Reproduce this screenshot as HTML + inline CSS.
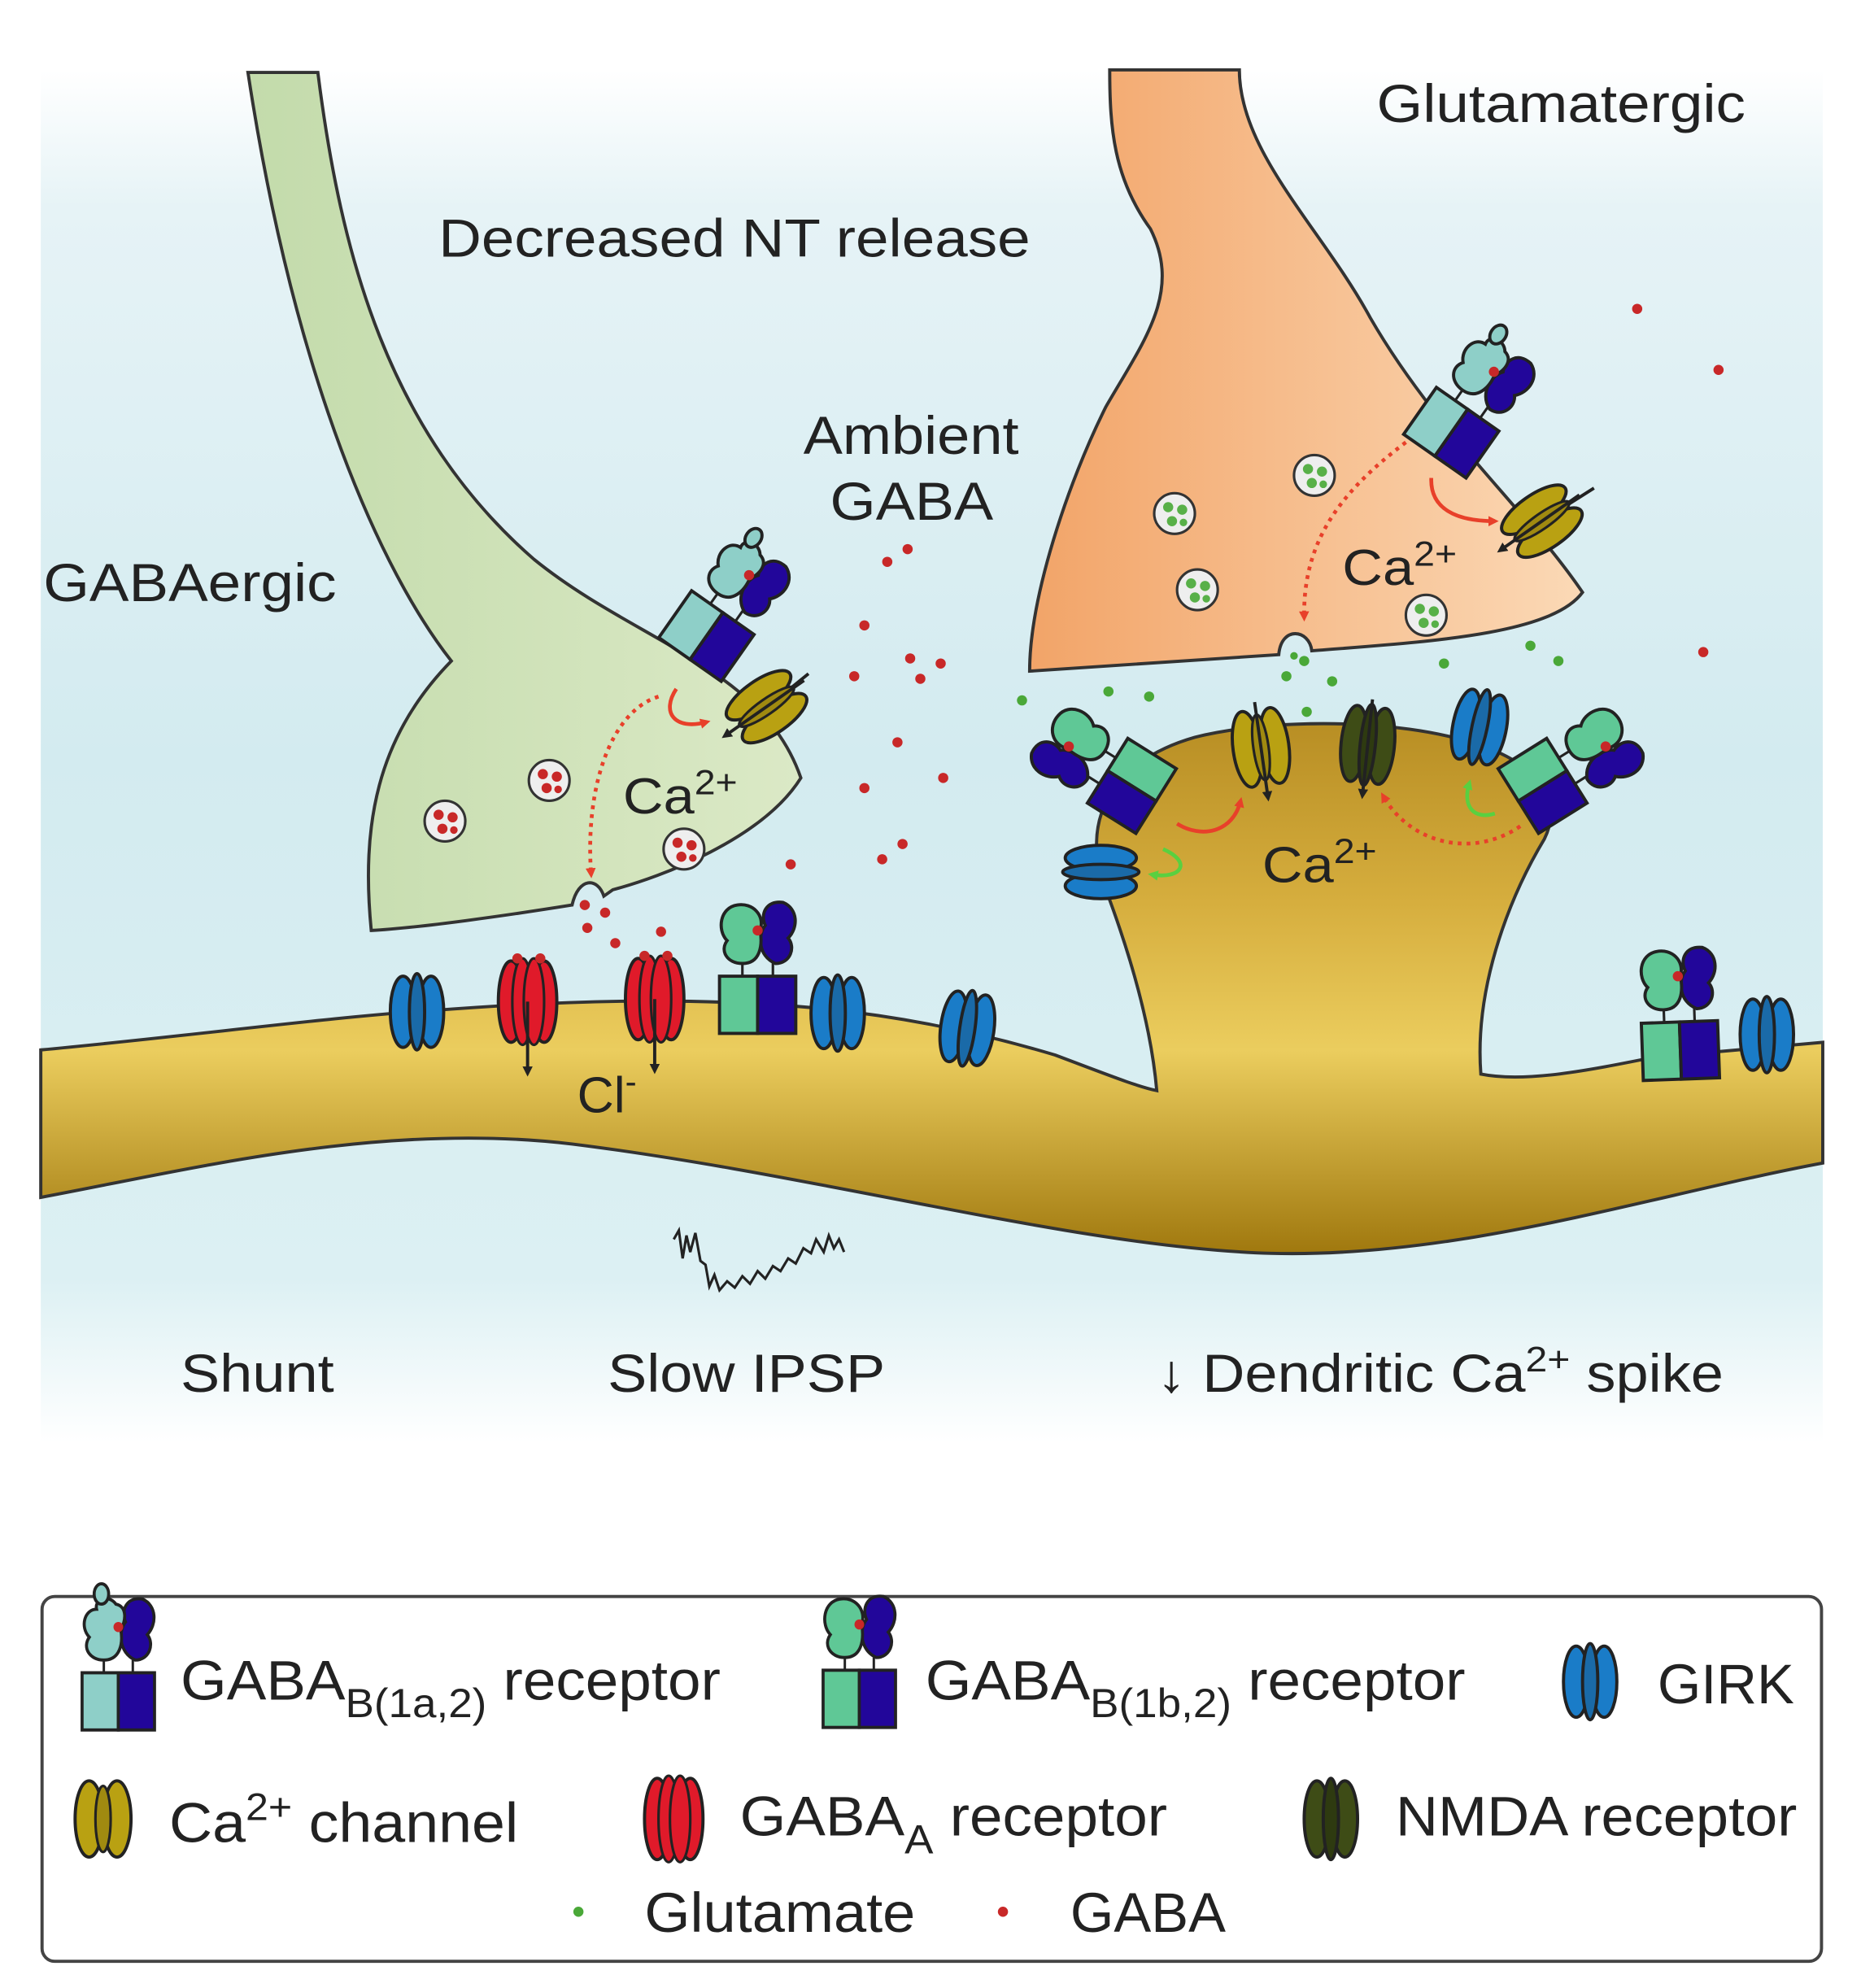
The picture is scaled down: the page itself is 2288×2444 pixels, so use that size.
<!DOCTYPE html>
<html><head><meta charset="utf-8"><style>
html,body{margin:0;padding:0;background:#fff}
svg{display:block}
text{font-family:"Liberation Sans",Arial,sans-serif;fill:#222}
</style></head><body>
<svg width="2288" height="2444" viewBox="0 0 1464 1564" xmlns="http://www.w3.org/2000/svg">
<defs>
<linearGradient id="bg" x1="0" y1="0" x2="0" y2="1" gradientUnits="objectBoundingBox">
<stop offset="0" stop-color="#ffffff"/><stop offset="0.1" stop-color="#e6f3f6"/><stop offset="0.5" stop-color="#d3ebf0"/><stop offset="0.88" stop-color="#dcf0f3"/><stop offset="1" stop-color="#ffffff"/></linearGradient>
<linearGradient id="gr" x1="0" y1="0" x2="1" y2="0"><stop offset="0" stop-color="#c3dbab"/><stop offset="1" stop-color="#dbe9c6"/></linearGradient>
<linearGradient id="or" x1="0" y1="0" x2="1" y2="0"><stop offset="0" stop-color="#f2a468"/><stop offset="1" stop-color="#fbd9b6"/></linearGradient>
<linearGradient id="dd" x1="0" y1="560" x2="0" y2="990" gradientUnits="userSpaceOnUse"><stop offset="0" stop-color="#b68c22"/><stop offset="0.35" stop-color="#d6ae3e"/><stop offset="0.62" stop-color="#ebcd5e"/><stop offset="1" stop-color="#9e760c"/></linearGradient>
<marker id="ar" markerWidth="8" markerHeight="8" refX="5" refY="4" orient="auto" markerUnits="userSpaceOnUse"><path d="M0,0 L8,4 L0,8Z" fill="#e8402a"/></marker>
<marker id="ag" markerWidth="8" markerHeight="8" refX="5" refY="4" orient="auto" markerUnits="userSpaceOnUse"><path d="M0,0 L8,4 L0,8Z" fill="#5ad040"/></marker>
<marker id="ab" markerWidth="8" markerHeight="8" refX="5" refY="4" orient="auto" markerUnits="userSpaceOnUse"><path d="M0,0 L8,4 L0,8Z" fill="#222"/></marker>
<g id="lumps">
<line x1="-12" y1="-22" x2="-12" y2="-32" stroke="#222" stroke-width="2"/><line x1="12" y1="-22" x2="12" y2="-32" stroke="#222" stroke-width="2"/>
<path d="M14,-32 C26,-32 30,-45 24,-52 C32,-60 32,-75 20,-80 C6,-82 2,-70 6,-62 C0,-55 0,-38 14,-32Z" fill="#22069a" stroke="#222" stroke-width="2.5"/>
</g>
<g id="ga">
<use href="#lumps"/>
<path d="M-12,-32 C-24,-32 -30,-42 -24,-50 C-32,-58 -28,-72 -18,-72 C-20,-80 -8,-84 -2,-76 C8,-74 6,-62 2,-56 C4,-46 2,-32 -12,-32Z" fill="#8ecfc8" stroke="#222" stroke-width="2.5"/>
<ellipse cx="-14" cy="-84" rx="6" ry="8" fill="#8ecfc8" stroke="#222" stroke-width="2.5"/>
<circle cx="0" cy="-58" r="4" fill="#c82828"/>
<rect x="-30" y="-22" width="30" height="45" fill="#8ecfc8" stroke="#222" stroke-width="2.5"/>
<rect x="0" y="-22" width="30" height="45" fill="#22069a" stroke="#222" stroke-width="2.5"/>
</g>
<g id="gb">
<use href="#lumps"/>
<path d="M-12,-32 C-24,-32 -30,-42 -24,-50 C-32,-58 -30,-76 -16,-78 C-4,-80 6,-70 2,-58 C4,-46 2,-32 -12,-32Z" fill="#5fc896" stroke="#222" stroke-width="2.5"/>
<circle cx="0" cy="-58" r="4" fill="#c82828"/>
<rect x="-30" y="-22" width="30" height="45" fill="#5fc896" stroke="#222" stroke-width="2.5"/>
<rect x="0" y="-22" width="30" height="45" fill="#22069a" stroke="#222" stroke-width="2.5"/>
</g>
<g id="girk">
<ellipse cx="-11" cy="0" rx="10" ry="28" fill="#1a7cc8" stroke="#222" stroke-width="2.5"/>
<ellipse cx="11" cy="0" rx="10" ry="28" fill="#1a7cc8" stroke="#222" stroke-width="2.5"/>
<ellipse cx="0" cy="0" rx="6" ry="30" fill="#1a6aa8" stroke="#222" stroke-width="2.5"/>
</g>
<g id="nmda">
<ellipse cx="-11" cy="0" rx="10" ry="30" fill="#3e4c16" stroke="#222" stroke-width="2.5"/>
<ellipse cx="11" cy="0" rx="10" ry="30" fill="#3e4c16" stroke="#222" stroke-width="2.5"/>
<ellipse cx="0" cy="0" rx="6" ry="32" fill="#2e3a10" stroke="#222" stroke-width="2.5"/>
</g>
<g id="ca">
<ellipse cx="-11" cy="0" rx="11" ry="30" fill="#b9a112" stroke="#222" stroke-width="2.5"/>
<ellipse cx="11" cy="0" rx="11" ry="30" fill="#b9a112" stroke="#222" stroke-width="2.5"/>
<ellipse cx="0" cy="0" rx="6" ry="26" fill="#a08a10" stroke="#222" stroke-width="2"/>
</g>
<g id="caA"><use href="#ca"/><line x1="0" y1="-36" x2="0" y2="40" stroke="#222" stroke-width="2.5" marker-end="url(#ab)"/></g>
<g id="gaba">
<ellipse cx="-13" cy="0" rx="10" ry="32" fill="#e01a2a" stroke="#222" stroke-width="2.5"/>
<ellipse cx="13" cy="0" rx="10" ry="32" fill="#e01a2a" stroke="#222" stroke-width="2.5"/>
<ellipse cx="-4" cy="0" rx="8" ry="34" fill="#e01a2a" stroke="#222" stroke-width="2"/>
<ellipse cx="5" cy="0" rx="8" ry="34" fill="#e01a2a" stroke="#222" stroke-width="2"/>
</g>
<g id="gabaA"><use href="#gaba"/><line x1="0" y1="0" x2="0" y2="56" stroke="#222" stroke-width="2.5" marker-end="url(#ab)"/><circle cx="-8" cy="-34" r="4" fill="#c82828"/><circle cx="10" cy="-34" r="4" fill="#c82828"/></g>
<g id="vr"><circle r="16" fill="#eee" stroke="#333" stroke-width="2"/><circle cx="-5" cy="-5" r="4" fill="#c82828"/><circle cx="6" cy="-3" r="4" fill="#c82828"/><circle cx="-2" cy="6" r="4" fill="#c82828"/><circle cx="7" cy="7" r="3" fill="#c82828"/></g>
<g id="vg"><circle r="16" fill="#eee" stroke="#333" stroke-width="2"/><circle cx="-5" cy="-5" r="4" fill="#58b048"/><circle cx="6" cy="-3" r="4" fill="#58b048"/><circle cx="-2" cy="6" r="4" fill="#58b048"/><circle cx="7" cy="7" r="3" fill="#58b048"/></g>
</defs>

<rect x="32" y="55" width="1402" height="1080" fill="url(#bg)"/>

<path d="M195,57 L250,57 C268,200 305,340 420,440 C500,505 600,525 630,612 C600,660 520,690 482,700 L475,705 C470,690 455,690 450,712 C400,720 330,730 292,732 C284,650 296,580 355,520 C300,450 232,300 195,57 Z" fill="url(#gr)" stroke="#333" stroke-width="2.5"/>
<path d="M873,55 L975,55 C975,120 1040,180 1078,250 C1130,340 1200,400 1245,466 C1220,500 1120,505 1032,512 C1030,495 1008,492 1006,515 L810,528 C810,470 840,380 870,320 C900,268 930,230 905,180 C876,140 873,100 873,55 Z" fill="url(#or)" stroke="#333" stroke-width="2.5"/>
<path d="M32,826 C150,815 260,800 340,795 C430,788 520,785 600,790 C700,795 780,815 830,830 C870,845 895,855 910,858 C905,800 885,740 870,700 C850,650 870,600 940,580 C1000,565 1100,565 1160,585 C1210,600 1230,630 1215,660 C1185,710 1160,780 1165,845 C1200,852 1250,842 1300,832 L1434,820 L1434,915 C1300,940 1150,990 1000,986 C850,982 650,925 450,900 C300,882 150,920 32,942 Z" fill="url(#dd)" stroke="#333" stroke-width="2.5"/>

<use href="#vr" x="350" y="646"/><use href="#vr" x="432" y="614"/><use href="#vr" x="538" y="668"/>
<use href="#vg" x="924" y="404"/><use href="#vg" x="1034" y="374"/><use href="#vg" x="942" y="464"/><use href="#vg" x="1122" y="484"/>

<g fill="#c82828"><circle cx="460" cy="712" r="4"/><circle cx="476" cy="718" r="4"/><circle cx="462" cy="730" r="4"/><circle cx="484" cy="742" r="4"/><circle cx="520" cy="733" r="4"/>
<circle cx="698" cy="442" r="4"/><circle cx="714" cy="432" r="4"/><circle cx="680" cy="492" r="4"/><circle cx="716" cy="518" r="4"/><circle cx="740" cy="522" r="4"/><circle cx="724" cy="534" r="4"/><circle cx="672" cy="532" r="4"/><circle cx="706" cy="584" r="4"/><circle cx="742" cy="612" r="4"/><circle cx="680" cy="620" r="4"/><circle cx="710" cy="664" r="4"/><circle cx="694" cy="676" r="4"/><circle cx="622" cy="680" r="4"/><circle cx="1288" cy="243" r="4"/><circle cx="1352" cy="291" r="4"/><circle cx="1340" cy="513" r="4"/></g>
<g fill="#4aa838"><circle cx="1012" cy="532" r="4"/><circle cx="1026" cy="520" r="4"/><circle cx="1018" cy="516" r="3"/><circle cx="1048" cy="536" r="4"/><circle cx="1028" cy="560" r="4"/><circle cx="1136" cy="522" r="4"/><circle cx="1204" cy="508" r="4"/><circle cx="1226" cy="520" r="4"/><circle cx="804" cy="551" r="4"/><circle cx="872" cy="544" r="4"/><circle cx="904" cy="548" r="4"/></g>

<use href="#ga" transform="translate(556,500) rotate(35)"/>
<line x1="604" y1="556" x2="636" y2="530" stroke="#222" stroke-width="2.5"/>
<use href="#caA" transform="translate(603,556) rotate(55)"/>
<use href="#ga" transform="translate(1142,340) rotate(35)"/>
<line x1="1213" y1="410" x2="1254" y2="384" stroke="#222" stroke-width="2.5"/>
<use href="#caA" transform="translate(1213,410) rotate(55)"/>

<use href="#gb" transform="translate(890,618) rotate(-58) scale(-1,1)"/>
<use href="#gb" transform="translate(1214,618) rotate(58)"/>
<use href="#caA" transform="translate(992,588) rotate(-8)"/>
<g transform="translate(1076,586) rotate(6)"><use href="#nmda"/><line x1="0" y1="-36" x2="0" y2="40" stroke="#222" stroke-width="2.5" marker-end="url(#ab)"/></g>
<use href="#girk" transform="translate(1164,572) rotate(12)"/>
<use href="#girk" transform="translate(866,686) rotate(90)"/>

<use href="#girk" x="328" y="796"/>
<use href="#gabaA" x="415" y="788"/>
<use href="#gabaA" x="515" y="786"/>
<use href="#gb" x="596" y="790"/>
<use href="#girk" x="659" y="797"/>
<use href="#girk" transform="translate(761,809) rotate(8)"/>
<use href="#gb" transform="translate(1322,826) rotate(-2)"/>
<use href="#girk" x="1390" y="814"/>

<g fill="none" stroke-width="3">
<path d="M518,548 C480,560 460,620 465,688" stroke="#e8402a" stroke-dasharray="3,4" marker-end="url(#ar)"/>
<path d="M532,542 C520,560 530,575 556,568" stroke="#e8402a" marker-end="url(#ar)"/>
<path d="M1106,348 C1050,390 1025,430 1026,486" stroke="#e8402a" stroke-dasharray="3,4" marker-end="url(#ar)"/>
<path d="M1126,376 C1125,400 1145,410 1176,410" stroke="#e8402a" marker-end="url(#ar)"/>
<path d="M926,648 C945,660 970,655 976,630" stroke="#e8402a" marker-end="url(#ar)"/>
<path d="M1196,650 C1160,675 1110,665 1088,626" stroke="#e8402a" stroke-dasharray="3,4" marker-end="url(#ar)"/>
<path d="M915,668 C938,678 930,692 906,688" stroke="#5ad040" marker-end="url(#ag)"/>
<path d="M1176,640 C1160,645 1150,635 1156,616" stroke="#5ad040" marker-end="url(#ag)"/>
</g>

<polyline points="530,975 534,968 537,990 540,972 543,985 547,970 551,992 555,995 558,1012 562,1003 566,1015 572,1008 578,1013 584,1004 590,1010 596,1000 602,1006 608,996 614,1000 620,990 626,994 632,982 638,986 642,975 648,985 652,972 656,982 660,975 664,985" fill="none" stroke="#222" stroke-width="2"/>

<g font-size="42">
<text x="345" y="202" transform="matrix(1.11,0,0,1,-37.95,0)">Decreased NT release</text>
<text x="1083" y="96" transform="matrix(1.11,0,0,1,-119.1,0)">Glutamatergic</text>
<text x="632" y="357" transform="matrix(1.1,0,0,1,-63.2,0)">Ambient</text>
<text x="653" y="409" transform="matrix(1.1,0,0,1,-65.3,0)">GABA</text>
<text x="34" y="473" transform="matrix(1.11,0,0,1,-3.74,0)">GABAergic</text>
<text x="142" y="1095" transform="matrix(1.1,0,0,1,-14.2,0)">Shunt</text>
<text x="478" y="1095" transform="matrix(1.1,0,0,1,-47.8,0)">Slow IPSP</text>
<text x="910" y="1095" transform="matrix(1.1,0,0,1,-91,0)">↓ Dendritic Ca<tspan dy="-16" font-size="28">2+</tspan><tspan dy="16"> spike</tspan></text>
</g>
<text x="490" y="640" font-size="40" transform="matrix(1.1,0,0,1,-49,0)">Ca<tspan dy="-15" font-size="27">2+</tspan></text>
<text x="1056" y="460" font-size="40" transform="matrix(1.1,0,0,1,-105.6,0)">Ca<tspan dy="-15" font-size="27">2+</tspan></text>
<text x="993" y="694" font-size="40" transform="matrix(1.1,0,0,1,-99.3,0)">Ca<tspan dy="-15" font-size="27">2+</tspan></text>
<text x="454" y="875" font-size="40">Cl<tspan dy="-15" font-size="27">-</tspan></text>

<rect x="33" y="1256" width="1400" height="287" rx="10" fill="#fff" stroke="#444" stroke-width="2.5"/>
<g transform="translate(93,1338) scale(0.95,1)"><use href="#ga"/></g>
<text x="142" y="1337" font-size="44" transform="matrix(1.06,0,0,1,-8.5,0)">GABA<tspan dy="14" font-size="32">B(1a,2)</tspan><tspan dy="-14"> receptor</tspan></text>
<g transform="translate(676,1336) scale(0.95,1)"><use href="#gb"/></g>
<text x="728" y="1337" font-size="44" transform="matrix(1.06,0,0,1,-43.7,0)">GABA<tspan dy="14" font-size="32">B(1b,2)</tspan><tspan dy="-14"> receptor</tspan></text>
<use href="#girk" x="1251" y="1323"/>
<text x="1304" y="1340" font-size="44">GIRK</text>
<use href="#ca" x="81" y="1431"/>
<text x="133" y="1449" font-size="44" transform="matrix(1.07,0,0,1,-9.3,0)">Ca<tspan dy="-17" font-size="30">2+</tspan><tspan dy="17"> channel</tspan></text>
<use href="#gaba" x="530" y="1431"/>
<text x="582" y="1444" font-size="44" transform="matrix(1.06,0,0,1,-34.9,0)">GABA<tspan dy="14" font-size="32">A</tspan><tspan dy="-14"> receptor</tspan></text>
<use href="#nmda" x="1047" y="1431"/>
<text x="1098" y="1444" font-size="44" transform="matrix(1.05,0,0,1,-54.9,0)">NMDA receptor</text>
<circle cx="455" cy="1504" r="4" fill="#4aa838"/>
<text x="507" y="1520" font-size="44" transform="matrix(1.05,0,0,1,-25.4,0)">Glutamate</text>
<circle cx="789" cy="1504" r="4" fill="#c82828"/>
<text x="842" y="1520" font-size="44">GABA</text>
</svg>
</body></html>
